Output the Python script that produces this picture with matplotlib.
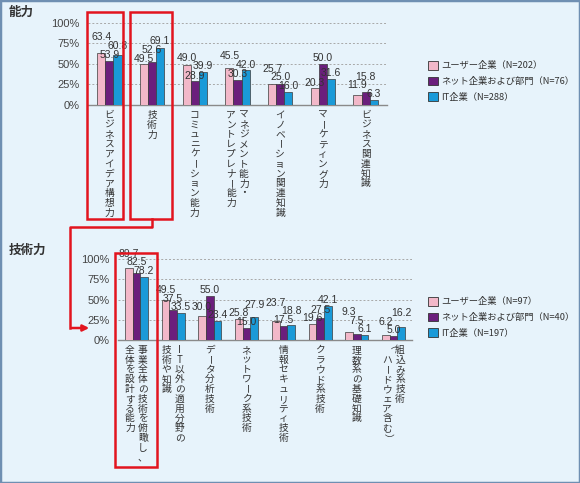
import matplotlib
matplotlib.use("Agg")
import matplotlib.pyplot as plt
import matplotlib.transforms as mtransforms
from matplotlib.patches import Patch, Rectangle, FancyArrowPatch
from matplotlib.lines import Line2D
import numpy as np

plt.rcParams['font.family'] = ['Noto Sans CJK JP', 'DejaVu Sans']

# --- data -------------------------------------------------------------
skill_cats = ["ビジネスアイデア構想力", "技術力", "コミュニケーション能力",
              "マネジメント能力・\nアントレプレナー能力", "イノベーション関連知識",
              "マーケティング力", "ビジネス関連知識"]
skill_user = [63.4, 49.5, 49.0, 45.5, 25.7, 20.3, 11.9]
skill_net = [53.9, 52.6, 28.9, 30.3, 25.0, 50.0, 15.8]
skill_it = [60.8, 69.1, 39.9, 42.0, 16.0, 31.6, 6.3]
skill_legend = ["ユーザー企業（N=202）", "ネット企業および部門（N=76）", "IT企業（N=288）"]

tech_cats = ["事業全体の技術を俯瞰し、\n全体を設計する能力", "IT以外の適用分野の\n技術や知識",
             "データ分析技術", "ネットワーク系技術", "情報セキュリティ技術",
             "クラウド系技術", "理数系の基礎知識", "組込み系技術\n（ハードウェア含む）"]
tech_user = [89.7, 49.5, 30.0, 25.8, 23.7, 19.6, 9.3, 6.2]
tech_net = [82.5, 37.5, 55.0, 15.0, 17.5, 27.5, 7.5, 5.0]
tech_it = [78.2, 33.5, 23.4, 27.9, 18.8, 42.1, 6.1, 16.2]
tech_legend = ["ユーザー企業（N=97）", "ネット企業および部門（N=40）", "IT企業（N=197）"]

yticks = [0, 25, 50, 75, 100]
ytick_labels = ["0%", "25%", "50%", "75%", "100%"]

# --- style ------------------------------------------------------------
BG = "#e7f3fb"
COLORS = ["#f2b8c9", "#6b1f7c", "#1a9ad8"]
RED = "#e2141e"
TXT = "#333333"
W, H = 580, 483


def fx(x):
    return x / W


def fy(y):
    return 1 - y / H


fig = plt.figure(figsize=(W / 100, H / 100), dpi=100, facecolor=BG)

ax1 = fig.add_axes([fx(88), fy(105), fx(387) - fx(88), fy(22.7) - fy(105)])
ax2 = fig.add_axes([fx(118), fy(340), fx(412) - fx(118), fy(259.3) - fy(340)])


def draw_panel(ax, cats, series, bw):
    x = np.arange(len(cats))
    ax.set_xlim(-0.5, len(cats) - 0.5)
    ax.set_ylim(0, 100)
    for k, (vals, col) in enumerate(zip(series, COLORS)):
        ax.bar(x + (k - 1) * bw, vals, bw, color=col, edgecolor="#3a3a3a",
               linewidth=0.5, zorder=3)

    # value labels, stacked so that the larger value sits higher
    px_per_unit = ax.get_position().height * H / 100
    row = 6.3  # points between stacked labels
    for i in range(len(cats)):
        vals = [s[i] for s in series]
        order = np.argsort(vals)
        prev = None
        for k in order:
            y_pt = vals[k] * px_per_unit * 0.72
            if prev is not None:
                y_pt = max(y_pt, prev + row)
            prev = y_pt
            ax.annotate(f"{vals[k]:.1f}", xy=(i + (k - 1) * bw, 0),
                        xytext=(0, y_pt + 0.5), textcoords="offset points",
                        ha="center", va="bottom", fontsize=7.5, family="Liberation Sans",
                        color=TXT, zorder=5, annotation_clip=False)

    ax.set_yticks(yticks)
    ax.set_yticklabels(ytick_labels, fontsize=8, family="Liberation Sans", color="#444444")
    ax.set_xticks([])
    ax.tick_params(axis="y", length=0, pad=6)
    ax.yaxis.grid(True, linestyle=(0, (2, 2)), color="#a8a8a8", linewidth=0.7)
    ax.set_axisbelow(True)
    ax.set_facecolor("none")
    for s in ["top", "left", "right"]:
        ax.spines[s].set_visible(False)
    ax.spines["bottom"].set_color("#8a8a8a")
    ax.spines["bottom"].set_linewidth(1.0)

    # vertical (tategaki) category labels, first column on the right
    for i, cat in enumerate(cats):
        cols = cat.split("\n")
        n = len(cols)
        for j, line in enumerate(cols):
            dx = ((n - 1) / 2 - j) * 9.3
            for k, ch in enumerate(line):
                rot = -90 if ch in "ー（）" else 0
                ax.annotate(ch, xy=(i, 0), xycoords=("data", "axes fraction"),
                            xytext=(dx, -(3.6 + (k + 0.5) * 7.05)), textcoords="offset points",
                            ha="center", va="center", rotation=rot, fontsize=7.0,
                            color=TXT, annotation_clip=False)


def draw_legend(labels, x, y):
    handles = [Patch(facecolor=c, edgecolor="#333333", linewidth=0.6, label=l)
               for c, l in zip(COLORS, labels)]
    fig.legend(handles=handles, loc="upper left", bbox_to_anchor=(fx(x), fy(y)),
               bbox_transform=fig.transFigure, frameon=False, fontsize=6.7,
               handlelength=1.05, handleheight=1.05, handletextpad=0.4,
               labelspacing=0.66, borderpad=0, borderaxespad=0, labelcolor=TXT)


draw_panel(ax1, skill_cats, [skill_user, skill_net, skill_it], 0.19)
draw_panel(ax2, tech_cats, [tech_user, tech_net, tech_it], 0.21)
draw_legend(skill_legend, 428, 61)
draw_legend(tech_legend, 428, 297)

fig.text(fx(9), fy(12), "能力", va="center", fontsize=9, fontweight="bold", color=TXT)
fig.text(fx(9), fy(250), "技術力", va="center", fontsize=9, fontweight="bold", color=TXT)

# red highlight boxes
t1 = mtransforms.blended_transform_factory(ax1.transData, fig.transFigure)
t2 = mtransforms.blended_transform_factory(ax2.transData, fig.transFigure)
for x0, x1 in [(-0.52, 0.33), (0.48, 1.47)]:
    fig.add_artist(Rectangle((x0, fy(219)), x1 - x0, fy(12) - fy(219), transform=t1,
                             fill=False, edgecolor=RED, linewidth=1.8, zorder=6))
fig.add_artist(Rectangle((-0.58, fy(467)), 1.14, fy(253) - fy(467), transform=t2,
                         fill=False, edgecolor=RED, linewidth=1.8, zorder=6))

# connector arrow from 技術力 box down to the lower panel
x_start = fx(ax1.transData.transform((1.0, 0))[0])
fig.add_artist(Line2D([x_start, x_start, fx(70), fx(70)], [fy(219), fy(227), fy(227), fy(328)],
                      transform=fig.transFigure, color=RED, linewidth=1.8, zorder=6))
fig.add_artist(FancyArrowPatch((fx(69), fy(328)), (fx(92), fy(328)),
                               transform=fig.transFigure, arrowstyle="-|>",
                               mutation_scale=9, color=RED, linewidth=1.8, zorder=6))

# outer frame
fig.add_artist(Rectangle((0, 0), 1, 1, transform=fig.transFigure, fill=False,
                         edgecolor="#6f8fb2", linewidth=2.5, zorder=7))

fig.savefig("out.png", dpi=100, facecolor=BG)
